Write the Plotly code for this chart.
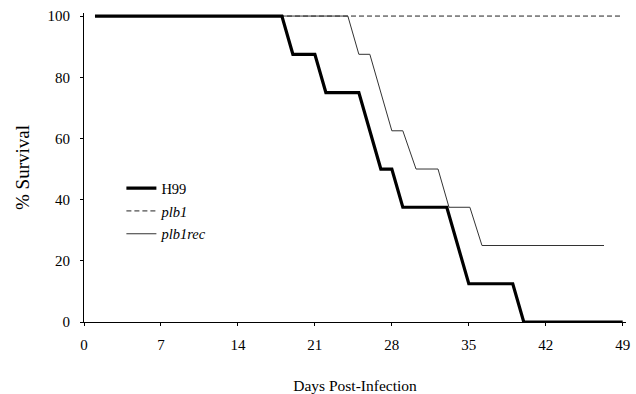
import plotly.graph_objects as go

# Kaplan-Meier style survival data (days, % survival)
h99_days = [1, 18, 19, 21, 22, 25, 27, 28, 29, 33, 35, 39, 40, 49]
h99_surv = [100, 100, 87.5, 87.5, 75, 75, 50, 50, 37.5, 37.5, 12.5, 12.5, 0, 0]

plb1_days = [1, 49]
plb1_surv = [100, 100]

plb1rec_days = [1, 24, 25, 26, 28, 29, 30.2, 32.2, 33.2, 35.1, 36.2, 47.3]
plb1rec_surv = [100, 100, 87.5, 87.5, 62.5, 62.5, 50, 50, 37.5, 37.5, 25, 25]

x_ticks = [0, 7, 14, 21, 28, 35, 42, 49]
y_ticks = [0, 20, 40, 60, 80, 100]

FONT = "Liberation Serif, Times New Roman, serif"

fig = go.Figure()
fig.add_trace(go.Scatter(x=plb1_days, y=plb1_surv, mode="lines", name="<i>plb1</i>",
                         line=dict(color="#222222", width=1, dash="5px,3px"),
                         legendrank=2, legendgroup="b"))
fig.add_trace(go.Scatter(x=plb1rec_days, y=plb1rec_surv, mode="lines", name="<i>plb1rec</i>",
                         line=dict(color="#333333", width=1),
                         legendrank=3, legendgroup="c"))
fig.add_trace(go.Scatter(x=h99_days, y=h99_surv, mode="lines", name="H99",
                         line=dict(color="black", width=3.2),
                         legendrank=1, legendgroup="a"))

fig.update_layout(
    width=636, height=394,
    margin=dict(l=84, r=10, t=13, b=72),
    paper_bgcolor="white", plot_bgcolor="white",
    font=dict(family=FONT, size=15, color="black"),
    showlegend=True,
    legend=dict(x=0.069, y=0.485, xanchor="left", yanchor="top",
                bgcolor="rgba(0,0,0,0)", font=dict(family=FONT, size=14.5),
                traceorder="grouped", tracegroupgap=1),
    xaxis=dict(range=[0, 49.3], tickvals=x_ticks, ticktext=[str(t) for t in x_ticks],
               showgrid=False, zeroline=False, showline=True, linecolor="black", linewidth=1,
               ticks="outside", ticklen=3, tickcolor="black", ticklabelstandoff=6,
               tickfont=dict(family=FONT, size=15), automargin=False,
               title=dict(text="Days Post-Infection", font=dict(family=FONT, size=15.5), standoff=30)),
    yaxis=dict(range=[0, 101], tickvals=y_ticks, ticktext=[str(t) for t in y_ticks],
               showgrid=False, zeroline=False, showline=True, linecolor="black", linewidth=1,
               ticks="outside", ticklen=3, tickcolor="black", ticklabelstandoff=7,
               tickfont=dict(family=FONT, size=15), automargin=False,
               title=dict(text="% Survival", font=dict(family=FONT, size=19), standoff=12)),
)

fig.write_html("out.html")
